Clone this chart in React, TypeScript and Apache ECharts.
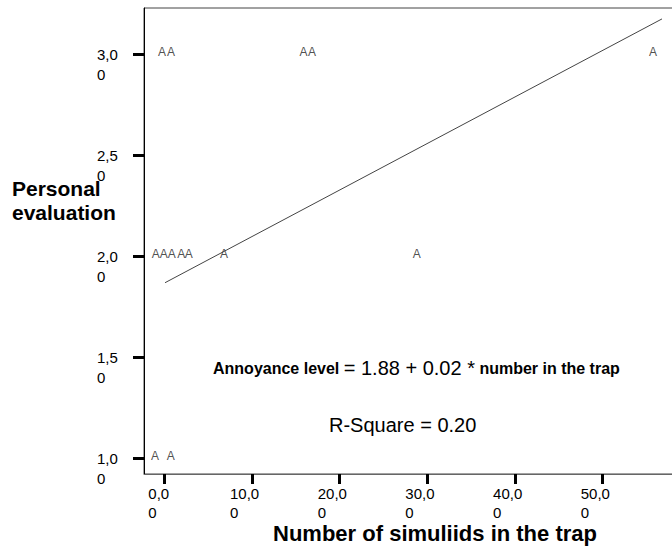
import React, { useEffect, useRef } from "react";
import * as echarts from "echarts";

// Data
const pointX: number[] = [-0.26, 0.76, 15.88, 16.84, 55.74, -0.98, -0.07, 0.84, 1.94, 2.77, 6.81, 28.79, -1.06, 0.73];
const pointY: number[] = [3, 3, 3, 3, 3, 2, 2, 2, 2, 2, 2, 2, 1, 1];
const fitX: number[] = [0.08, 56.76];
const fitY: number[] = [1.869, 3.175];
const xTicks: number[] = [0, 10, 20, 30, 40, 50];
const yTicks: number[] = [1, 1.5, 2, 2.5, 3];

const FONT = "'Liberation Sans', Arial, sans-serif";

function fmt(v: number): string {
  return v.toFixed(2).replace(".", ",");
}

export default function App() {
  const ref = useRef<HTMLDivElement>(null);
  useEffect(() => {
    if (!ref.current) return;
    const chart = echarts.init(ref.current, undefined, { renderer: "svg" });
    const labelStyle = { fontSize: 15, fontFamily: FONT, color: "#000", lineHeight: 19 };
    chart.setOption({
      animation: false,
      backgroundColor: "#fff",
      grid: {
        left: 144,
        top: 8,
        width: 546.4,
        height: 466,
        show: true,
        borderColor: "#444",
        borderWidth: 1,
        backgroundColor: "transparent",
        containLabel: false,
        outerBoundsMode: "none",
      },
      xAxis: {
        type: "value",
        min: -2.32,
        max: 60,
        splitLine: { show: false },
        axisLine: { show: true, onZero: false, lineStyle: { color: "#666", width: 1 } },
        axisTick: {
          show: true,
          customValues: xTicks,
          length: 10,
          inside: false,
          lineStyle: { color: "#000", width: 3 },
        },
        axisLabel: {
          customValues: xTicks,
          margin: 10,
          align: "center",
          formatter: (v: number) => {
            const s = fmt(v);
            const k = v === 0 ? "s" : "w";
            return `{${k}|${s.slice(0, s.length - 1)}}\n{${k}|${s.slice(-1)}}`;
          },
          rich: {
            w: { ...labelStyle, width: 44, align: "left" },
            s: { ...labelStyle, width: 32, align: "left" },
          },
        },
      },
      yAxis: {
        type: "value",
        min: 0.922,
        max: 3.229,
        splitLine: { show: false },
        axisLine: { show: true, onZero: false, lineStyle: { color: "#000", width: 1 } },
        axisTick: {
          show: true,
          customValues: yTicks,
          length: 11,
          inside: false,
          lineStyle: { color: "#000", width: 3 },
        },
        axisLabel: {
          customValues: yTicks,
          margin: 47,
          align: "left",
          verticalAlign: "middle",
          fontSize: 15,
          fontFamily: FONT,
          color: "#000",
          lineHeight: 20,
          formatter: (v: number) => {
            const s = fmt(v);
            return "\n" + s.slice(0, 3) + "\n" + s.slice(3);
          },
        },
      },
      series: [
        {
          type: "line",
          data: fitX.map((x, i) => [x, fitY[i]]),
          symbol: "none",
          lineStyle: { color: "#444", width: 1 },
          silent: true,
          z: 2,
        },
        {
          type: "scatter",
          data: pointX.map((x, i) => [x, pointY[i]]),
          symbolSize: 1,
          itemStyle: { color: "rgba(0,0,0,0)" },
          label: {
            show: true,
            position: "inside",
            formatter: () => "A",
            fontSize: 12,
            fontFamily: FONT,
            color: "#222",
            offset: [0, -2],
          },
          z: 3,
        },
      ],
      graphic: [
        {
          type: "text",
          x: 12,
          y: 176,
          style: {
            text: "Personal\nevaluation",
            fontSize: 21,
            fontWeight: "bold",
            fontFamily: FONT,
            lineHeight: 24,
            fill: "#000",
            verticalAlign: "top",
          },
        },
        {
          type: "text",
          x: 435,
          y: 533,
          style: {
            text: "Number of simuliids in the trap",
            fontSize: 22,
            fontWeight: "bold",
            fontFamily: FONT,
            fill: "#000",
            align: "center",
            verticalAlign: "middle",
          },
        },
        {
          type: "text",
          x: 213,
          y: 368,
          style: {
            text: "{s|Annoyance level }{b|= 1.88 + 0.02 *}{s| number in the trap}",
            fill: "#000",
            verticalAlign: "middle",
            rich: {
              s: { fontSize: 16, fontWeight: "bold", fontFamily: FONT, fill: "#000" },
              b: { fontSize: 20, fontWeight: "normal", fontFamily: FONT, fill: "#000" },
            },
          },
        },
        {
          type: "text",
          x: 329,
          y: 425,
          style: {
            text: "R-Square = 0.20",
            fontSize: 20,
            fontWeight: "normal",
            fontFamily: FONT,
            fill: "#000",
            verticalAlign: "middle",
          },
        },
      ],
    });
    return () => chart.dispose();
  }, []);
  return (
    <div
      ref={ref}
      style={{ position: "fixed", left: 0, top: 0, width: 672, height: 549 }}
    />
  );
}
